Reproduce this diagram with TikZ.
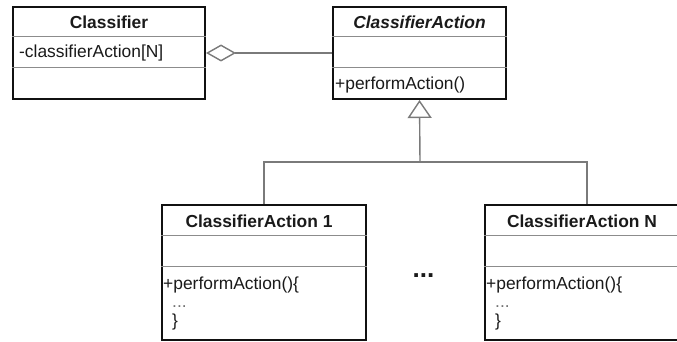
\documentclass[tikz,border=0pt]{standalone}
\usepackage{fontspec}
\setmainfont{Liberation Sans}
\usetikzlibrary{positioning,arrows.meta}
\definecolor{edge}{HTML}{111111}
\definecolor{divider}{HTML}{8C8C8C}
\definecolor{wire}{HTML}{7A7A7A}
\definecolor{ink}{HTML}{1A1A1A}

\tikzset{
  classbox/.style={draw=edge, line width=2pt, fill=white, inner sep=0pt},
  divline/.style={divider, line width=1pt},
  link/.style={wire, line width=1.4pt},
  umltext/.style={font=\fontsize{17.4}{20}\selectfont, text=ink, inner sep=0pt},
  opbody/.style={umltext, font=\fontsize{17.4}{18.5}\selectfont, align=left, anchor=base west},
}

\begin{document}
\begin{tikzpicture}[x=1pt, y=-1pt]
    \useasboundingbox (0,0) rectangle (677,342);
    \clip (0,0) rectangle (677,342);
    \fill[white] (0,0) rectangle (677,342);

    % Class boxes
    \node[classbox, minimum width=192pt, minimum height=92pt] (classifier) at (109,53) {};
    \node[classbox, minimum width=173pt, minimum height=92pt] (action) at (419.5,53) {};
    \node[classbox, minimum width=204pt, minimum height=135pt] (act1) at (264,272.5) {};
    \node[classbox, minimum width=204pt, minimum height=135pt] (actN) at (587,272.5) {};

    % Compartment lines
    \foreach \cls in {classifier, action, act1, actN} {
        \draw[divline] ([yshift=-31pt]\cls.north west) -- ([yshift=-31pt]\cls.north east);
        \draw[divline] ([yshift=-62pt]\cls.north west) -- ([yshift=-62pt]\cls.north east);
    }

    % Headers
    \node[umltext, font=\fontsize{17.4}{20}\selectfont\bfseries] (clsName) at (109,22) {Classifier};
    \node[umltext, font=\fontsize{17.4}{20}\selectfont\bfseries\itshape] (actName) at (419.5,22) {ClassifierAction};
    \node[umltext, font=\fontsize{17.4}{20}\selectfont\bfseries] (act1Name) at (259,221) {ClassifierAction 1};
    \node[umltext, font=\fontsize{17.4}{20}\selectfont\bfseries] (actNName) at (582,221) {ClassifierAction N};

    % Members
    \node[umltext, anchor=west] (clsAttr) at (19,53) {-classifierAction[N]};
    \node[umltext, anchor=west] (actOp) at (335,85) {+performAction()};
    \node[opbody] (act1Op) at (163,326)
        {+performAction()\{\\\hspace*{9pt}\textcolor{black!55}{...}\\\hspace*{9pt}\}};
    \node[opbody] (actNOp) at (486,326)
        {+performAction()\{\\\hspace*{9pt}\textcolor{black!55}{...}\\\hspace*{9pt}\}};

    % Dots between the subclasses
    \node[umltext, font=\fontsize{26}{26}\selectfont\bfseries] (more) at (423.5,276) {...};

    % Aggregation
    \draw[link, {Diamond[open, length=30pt, width=17pt]}-] (classifier.east) -- (action.west);

    % Generalization
    \coordinate (join) at (420,162);
    \draw[link] (act1.north) |- (join) -| (actN.north);
    \draw[link, -{Triangle[open, length=18pt, width=24pt]}] (join) -- (action.south);
\end{tikzpicture}
\end{document}
